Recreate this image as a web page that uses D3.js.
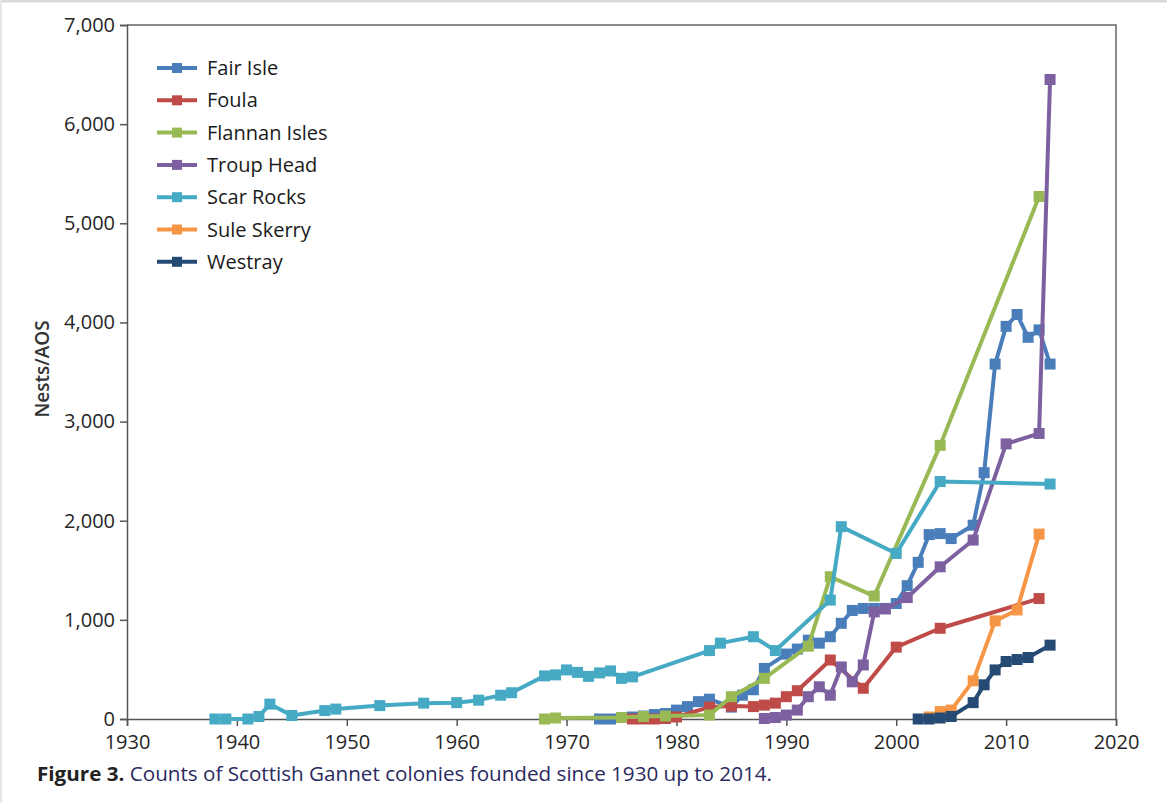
<html>
  <head>
    <meta charset="utf-8" />
    <title>Scottish Gannet colonies</title>
    <script src="https://d3js.org/d3.v7.min.js"></script>
    <style type="text/css">
      body { margin: 0; background: white; }
      text { font-family: "Open Sans", sans-serif; }
    </style>
  </head>
  <body>
    <div id="chart"></div>
    <script type="text/javascript">
      // data (year, nests/AOS)
      var seriesNames = ["Fair Isle", "Foula", "Flannan Isles", "Troup Head", "Scar Rocks", "Sule Skerry", "Westray"];
      var seriesColors = ["#4a7ebb", "#be4b48", "#98b954", "#7d60a0", "#46aac5", "#f69545", "#254b75"];

      var fairIsleYears = [1973, 1974, 1976, 1977, 1978, 1979, 1980, 1981, 1982, 1983, 1985, 1986, 1987, 1988, 1990, 1991, 1992, 1993, 1994, 1995, 1996, 1997, 1998, 1999, 2000, 2001, 2002, 2003, 2004, 2005, 2007, 2008, 2009, 2010, 2011, 2012, 2013, 2014];
      var fairIsleValues = [0, 0, 20, 30, 45, 55, 90, 125, 175, 200, 120, 240, 295, 510, 655, 705, 795, 765, 830, 965, 1095, 1115, 1115, 1115, 1165, 1345, 1580, 1860, 1870, 1820, 1955, 2485, 3580, 3960, 4080, 3850, 3925, 3580];

      var foulaYears = [1976, 1977, 1978, 1979, 1980, 1983, 1985, 1987, 1988, 1989, 1990, 1991, 1994, 1997, 2000, 2004, 2013];
      var foulaValues = [0, 0, 0, 5, 20, 120, 130, 125, 140, 160, 225, 285, 595, 310, 725, 915, 1215];

      var flannanYears = [1968, 1969, 1975, 1977, 1979, 1983, 1985, 1988, 1992, 1994, 1998, 2004, 2013];
      var flannanValues = [0, 10, 15, 25, 30, 40, 225, 410, 735, 1435, 1240, 2760, 5270];

      var troupYears = [1988, 1989, 1990, 1991, 1992, 1993, 1994, 1995, 1996, 1997, 1998, 1999, 2001, 2004, 2007, 2010, 2013, 2014];
      var troupValues = [5, 15, 40, 90, 225, 325, 240, 525, 375, 545, 1080, 1110, 1225, 1535, 1805, 2775, 2880, 6450];

      var scarYears = [1938, 1939, 1941, 1942, 1943, 1945, 1948, 1949, 1953, 1957, 1960, 1962, 1964, 1965, 1968, 1969, 1970, 1971, 1972, 1973, 1974, 1975, 1976, 1983, 1984, 1987, 1989, 1994, 1995, 2000, 2004, 2014];
      var scarValues = [0, 0, 0, 25, 150, 35, 85, 100, 135, 160, 165, 190, 240, 265, 435, 445, 495, 470, 430, 465, 485, 410, 425, 690, 765, 830, 690, 1200, 1940, 1670, 2395, 2370];

      var suleYears = [2003, 2004, 2005, 2007, 2009, 2011, 2013];
      var suleValues = [20, 75, 90, 385, 990, 1100, 1865];

      var westrayYears = [2002, 2003, 2004, 2005, 2007, 2008, 2009, 2010, 2011, 2012, 2014];
      var westrayValues = [0, 0, 10, 25, 165, 345, 495, 580, 600, 620, 745];

      var xTicks = [1930, 1940, 1950, 1960, 1970, 1980, 1990, 2000, 2010, 2020];
      var yTicks = [0, 1000, 2000, 3000, 4000, 5000, 6000, 7000];

      var allYears = [fairIsleYears, foulaYears, flannanYears, troupYears, scarYears, suleYears, westrayYears];
      var allValues = [fairIsleValues, foulaValues, flannanValues, troupValues, scarValues, suleValues, westrayValues];

      var width = 1167, height = 803;
      var plotLeft = 127, plotRight = 1116, plotTop = 25, plotBottom = 719;

      var svg = d3.select("#chart").append("svg")
          .attr("width", width)
          .attr("height", height);

      // faint page frame
      svg.append("line").attr("x1", 0).attr("x2", width).attr("y1", 1).attr("y2", 1)
          .style("stroke", "#d9d9d9").style("stroke-width", 3);
      svg.append("line").attr("x1", 1).attr("x2", 1).attr("y1", 0).attr("y2", height)
          .style("stroke", "#e6e6e6").style("stroke-width", 2);

      var x = d3.scaleLinear().domain([1930, 2020]).range([plotLeft, plotRight]);
      var y = d3.scaleLinear().domain([0, 7000]).range([plotBottom, plotTop]);

      // plot box (top and right)
      svg.append("path")
          .attr("d", "M" + plotLeft + "," + plotTop + "H" + plotRight + "V" + plotBottom)
          .style("fill", "none").style("stroke", "#666").style("stroke-width", 1.5);

      var yAxis = svg.append("g")
          .attr("transform", "translate(" + plotLeft + ",0)")
          .call(d3.axisLeft(y).tickValues(yTicks).tickSize(7).tickPadding(5).tickFormat(d3.format(",")));
      var xAxis = svg.append("g")
          .attr("transform", "translate(0," + plotBottom + ")")
          .call(d3.axisBottom(x).tickValues(xTicks).tickSize(7).tickPadding(9).tickFormat(d3.format("d")));

      [xAxis, yAxis].forEach(function(ax) {
        ax.select(".domain").style("stroke", "#555").style("stroke-width", 1.5);
        ax.selectAll(".tick line").style("stroke", "#555").style("stroke-width", 1.5);
        ax.selectAll(".tick text").style("font-size", "20px").style("fill", "#262626")
            .style("font-family", "'Open Sans', sans-serif");
      });

      svg.append("text")
          .attr("transform", "translate(49,369) rotate(-90)")
          .attr("text-anchor", "middle")
          .style("font-size", "19px").style("font-weight", 600).style("fill", "#333")
          .text("Nests/AOS");

      var line = d3.line()
          .x(function(d) { return x(d[0]); })
          .y(function(d) { return y(d[1]); });

      for (var s = 0; s < seriesNames.length; s++) {
        var pts = allYears[s].map(function(yr, i) { return [yr, allValues[s][i]]; });
        var g = svg.append("g");
        g.append("path")
            .datum(pts)
            .attr("d", line)
            .style("fill", "none")
            .style("stroke", seriesColors[s])
            .style("stroke-width", 4)
            .style("stroke-linejoin", "round");
        g.selectAll("rect")
            .data(pts)
            .enter()
            .append("rect")
            .attr("x", function(d) { return x(d[0]) - 5.5; })
            .attr("y", function(d) { return y(d[1]) - 5.5; })
            .attr("width", 11)
            .attr("height", 11)
            .style("fill", seriesColors[s]);
      }

      // legend
      var legend = svg.append("g");
      seriesNames.forEach(function(name, i) {
        var ly = 68 + i * 32.3;
        legend.append("line")
            .attr("x1", 157).attr("x2", 197).attr("y1", ly).attr("y2", ly)
            .style("stroke", seriesColors[i]).style("stroke-width", 4);
        legend.append("rect")
            .attr("x", 172).attr("y", ly - 5).attr("width", 10).attr("height", 10)
            .style("fill", seriesColors[i]);
        legend.append("text")
            .attr("x", 207).attr("y", ly + 7)
            .style("font-size", "20px").style("fill", "#1a1a1a")
            .text(name);
      });

      // caption
      var cap = svg.append("text")
          .attr("x", 37).attr("y", 781)
          .style("font-size", "20px")
          .attr("textLength", 735)
          .attr("lengthAdjust", "spacingAndGlyphs");
      cap.append("tspan").style("font-weight", 700).style("fill", "#222").text("Figure 3.");
      cap.append("tspan").style("fill", "#2a2a5e").text(" Counts of Scottish Gannet colonies founded since 1930 up to 2014.");
    </script>
  </body>
</html>
